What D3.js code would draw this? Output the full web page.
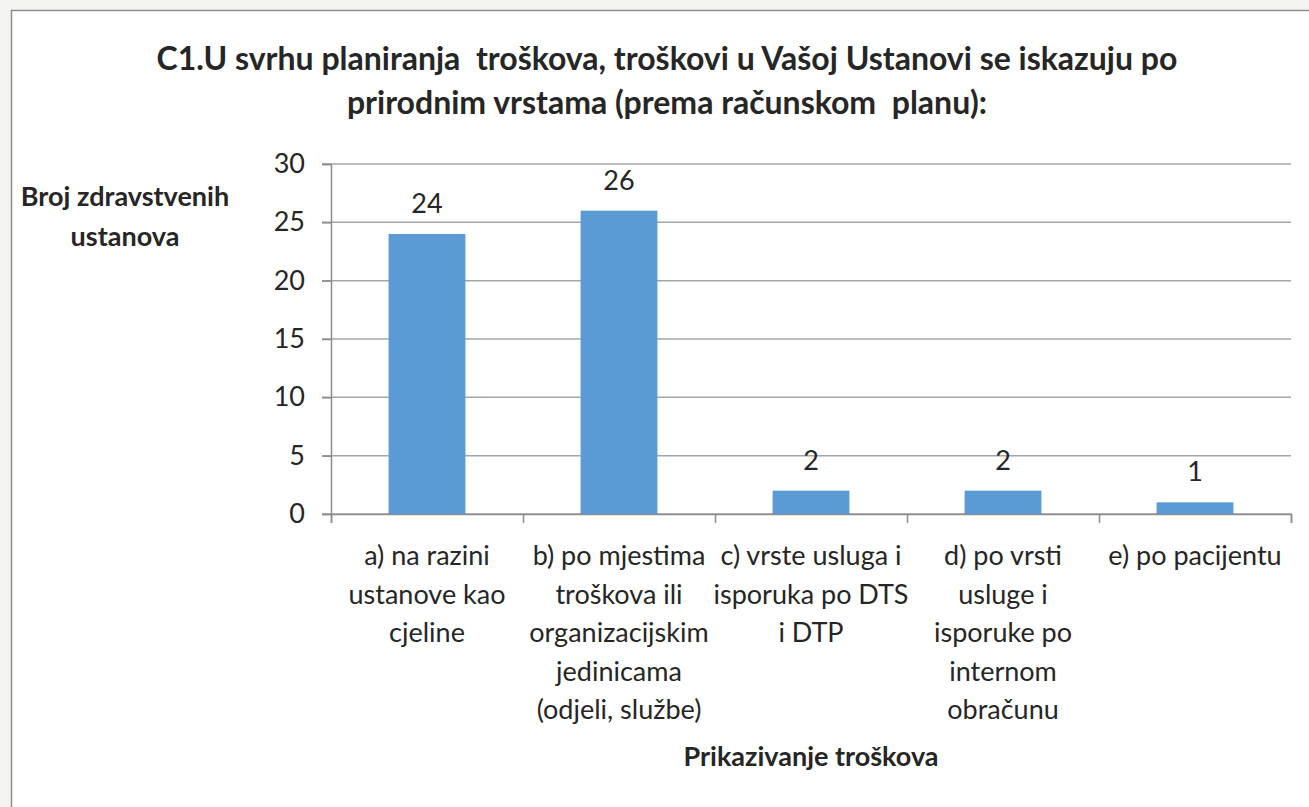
<!DOCTYPE html>
<html>
<head>
<meta charset="utf-8">
<script src="https://cdn.jsdelivr.net/npm/d3@7"></script>
<style>
  html, body { margin: 0; padding: 0; background: #f4f4f2; }
  svg { display: block; }
  text { font-family: Lato, "Open Sans", sans-serif; fill: #262626; }
</style>
</head>
<body>
<script>
const width = 1309, height = 807;

// data
const categories = [
    ["a) na razini", "ustanove kao", "cjeline"],
    ["b) po mjestima", "troškova ili", "organizacijskim", "jedinicama", "(odjeli, službe)"],
    ["c) vrste usluga i", "isporuka po DTS", "i DTP"],
    ["d) po vrsti", "usluge i", "isporuke po", "internom", "obračunu"],
    ["e) po pacijentu"]
];
const values = [24, 26, 2, 2, 1];
const yTicks = [0, 5, 10, 15, 20, 25, 30];
const titleLines = [
    "C1.U svrhu planiranja  troškova, troškovi u Vašoj Ustanovi se iskazuju po",
    "prirodnim vrstama (prema računskom  planu):"
];
const yTitle = ["Broj zdravstvenih", "ustanova"];
const xTitle = "Prikazivanje troškova";

const margin = { left: 331, right: 1291, top: 164, bottom: 514 };

const svg = d3.select("body").append("svg")
    .attr("width", width)
    .attr("height", height);

// frame
svg.append("rect")
    .attr("x", 11.5).attr("y", 10.5)
    .attr("width", width + 20).attr("height", height + 20)
    .attr("fill", "#fff")
    .attr("stroke", "#8c8c8c")
    .attr("stroke-width", 1.5);

const x = d3.scaleBand()
    .domain(d3.range(categories.length))
    .range([margin.left, margin.right])
    .paddingInner(0.6)
    .paddingOuter(0.3);

const xEdge = d3.scaleLinear()
    .domain([0, categories.length])
    .range([margin.left, margin.right]);

const y = d3.scaleLinear()
    .domain([0, 30])
    .range([margin.bottom, margin.top]);

// gridlines
svg.append("g")
    .selectAll("line")
    .data(yTicks)
    .join("line")
    .attr("x1", margin.left - 9)
    .attr("x2", margin.right)
    .attr("y1", d => y(d))
    .attr("y2", d => y(d))
    .attr("stroke", "#a6a6a6")
    .attr("stroke-width", 1.5);

// y axis
const yAxis = svg.append("g")
    .attr("transform", `translate(${margin.left},0)`)
    .call(d3.axisLeft(y).tickValues(yTicks).tickSize(9).tickPadding(17));
yAxis.select(".domain").attr("stroke", "#8c8c8c").attr("stroke-width", 1.5);
yAxis.selectAll(".tick line").attr("stroke", "#8c8c8c").attr("stroke-width", 1.5);
yAxis.selectAll(".tick text")
    .attr("font-size", 27)
    .attr("font-family", "Lato, sans-serif")
    .attr("fill", "#262626");

// x axis with ticks at category boundaries
const xAxis = svg.append("g")
    .attr("transform", `translate(0,${margin.bottom})`)
    .call(d3.axisBottom(xEdge).tickValues(d3.range(categories.length + 1))
        .tickSize(9).tickFormat(""));
xAxis.select(".domain").attr("stroke", "#8c8c8c").attr("stroke-width", 1.5);
xAxis.selectAll(".tick line").attr("stroke", "#8c8c8c").attr("stroke-width", 1.5);

// bars
svg.append("g")
    .selectAll("rect")
    .data(values)
    .join("rect")
    .attr("x", (d, i) => x(i))
    .attr("y", d => y(d))
    .attr("width", x.bandwidth())
    .attr("height", d => y(0) - y(d))
    .attr("fill", "#5b9bd5");

// data labels
svg.append("g")
    .selectAll("text")
    .data(values)
    .join("text")
    .attr("x", (d, i) => x(i) + x.bandwidth() / 2)
    .attr("y", d => y(d) - 21)
    .attr("text-anchor", "middle")
    .attr("font-size", 27)
    .text(d => d);

// category labels
const catG = svg.append("g")
    .selectAll("text")
    .data(categories)
    .join("text")
    .attr("text-anchor", "middle")
    .attr("font-size", 27);
catG.selectAll("tspan")
    .data((d, i) => d.map(t => ({ t, i })))
    .join("tspan")
    .attr("x", d => x(d.i) + x.bandwidth() / 2)
    .attr("y", (d, j) => 565 + j * 38.5)
    .text(d => d.t);

// title
svg.append("text")
    .attr("text-anchor", "middle")
    .attr("font-size", 32)
    .attr("font-weight", "bold")
    .style("white-space", "pre")
    .attr("fill", "#000")
    .selectAll("tspan")
    .data(titleLines)
    .join("tspan")
    .attr("x", 667)
    .attr("y", (d, i) => 70 + i * 44)
    .text(d => d);

// y title
svg.append("text")
    .attr("text-anchor", "middle")
    .attr("font-size", 27)
    .attr("font-weight", "bold")
    .attr("fill", "#000")
    .selectAll("tspan")
    .data(yTitle)
    .join("tspan")
    .attr("x", 125)
    .attr("y", (d, i) => 206 + i * 40)
    .text(d => d);

// x title
svg.append("text")
    .attr("x", 811)
    .attr("y", 766)
    .attr("text-anchor", "middle")
    .attr("font-size", 27)
    .attr("font-weight", "bold")
    .attr("fill", "#000")
    .text(xTitle);
</script>
</body>
</html>
